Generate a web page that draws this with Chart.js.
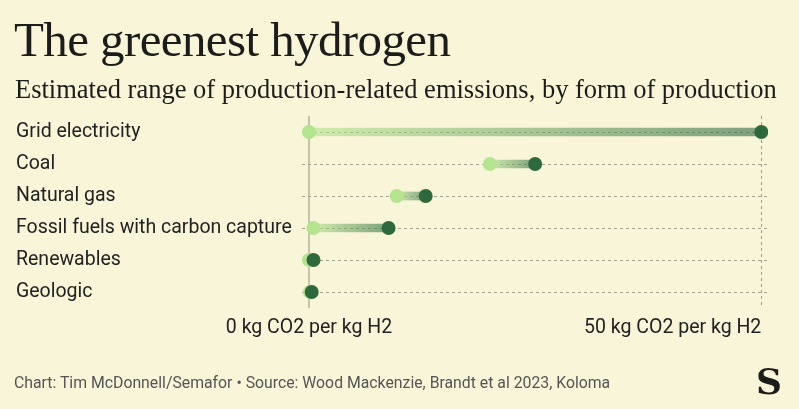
<!DOCTYPE html>
<html>
<head>
<meta charset="utf-8">
<script src="https://cdn.jsdelivr.net/npm/chart.js@4.4.0/dist/chart.umd.min.js"></script>
<style>
  html, body { margin: 0; padding: 0; background: #f8f5d8; }
  #wrap { position: relative; width: 799px; height: 409px; overflow: hidden; }
  #chart { position: absolute; left: 0; top: 0; }
  .title { position: absolute; left: 14px; top: 11px; font-family: 'Liberation Serif', serif; font-size: 49px; color: #1c1c1a; letter-spacing: -0.6px; white-space: nowrap; }
  .sub { position: absolute; left: 15px; top: 74px; font-family: 'Liberation Serif', serif; font-size: 26.5px; color: #1c1c1a; white-space: nowrap; }
  .foot { position: absolute; left: 14px; top: 373px; font-family: Roboto, sans-serif; font-size: 15.8px; color: #555; white-space: nowrap; }
  .logo { position: absolute; left: 756px; top: 360px; font-family: 'DejaVu Serif', serif; font-weight: bold; font-size: 36px; color: #1c1c1a; }
</style>
</head>
<body>
<div id="wrap">
  <canvas id="chart" width="799" height="409"></canvas>
  <div class="title">The greenest hydrogen</div>
  <div class="sub">Estimated range of production-related emissions, by form of production</div>
  <div class="foot">Chart: Tim McDonnell/Semafor • Source: Wood Mackenzie, Brandt et al 2023, Koloma</div>
  <div class="logo">S</div>
</div>
<script>
const categories = ['Grid electricity', 'Coal', 'Natural gas', 'Fossil fuels with carbon capture', 'Renewables', 'Geologic'];
const lowValues = [0, 20, 9.7, 0.5, 0, 0.1];
const highValues = [50, 25, 12.9, 8.8, 0.5, 0.3];
const tickValues = [0, 50];
const tickLabels = ['0 kg CO2 per kg H2', '50 kg CO2 per kg H2'];

const lightGreen = '#b5e48f';
const darkGreen = '#2e693e';
const labelFont = { family: 'Roboto, sans-serif', size: 19.5 };

// tick labels for the x axis: first centred, last right-aligned
const xLabels = {
    id: 'xLabels',
    afterDraw(chart) {
        const ctx = chart.ctx;
        const x = chart.scales.x;
        ctx.save();
        ctx.font = labelFont.size + 'px ' + labelFont.family;
        ctx.fillStyle = '#222';
        ctx.textBaseline = 'middle';
        tickValues.forEach(function(v, i) {
            ctx.textAlign = i === 0 ? 'center' : 'right';
            ctx.fillText(tickLabels[i], x.getPixelForValue(v), x.top + 20);
        });
        ctx.restore();
    }
};

new Chart(document.getElementById('chart').getContext('2d'), {
    type: 'bar',
    data: {
        labels: categories,
        datasets: [{
            type: 'bar',
            indexAxis: 'y',
            data: lowValues.map((v, i) => [v, highValues[i]]),
            barThickness: 8,
            order: 3,
            backgroundColor: function(c) {
                const chart = c.chart;
                if (!chart.chartArea || c.dataIndex === undefined) return 'rgba(0,0,0,0)';
                const sx = chart.scales.x;
                const x0 = sx.getPixelForValue(lowValues[c.dataIndex]);
                const x1 = sx.getPixelForValue(highValues[c.dataIndex]);
                const g = chart.ctx.createLinearGradient(x0, 0, x1 + 0.01, 0);
                g.addColorStop(0, 'rgba(181,228,143,0.6)');
                g.addColorStop(1, 'rgba(46,105,62,0.6)');
                return g;
            }
        }, {
            type: 'line',
            indexAxis: 'y',
            showLine: false,
            order: 2,
            data: lowValues.map((v, i) => ({ x: v, y: categories[i] })),
            pointRadius: 7,
            pointHoverRadius: 7,
            pointBackgroundColor: lightGreen,
            pointBorderWidth: 0
        }, {
            type: 'line',
            indexAxis: 'y',
            showLine: false,
            order: 1,
            data: highValues.map((v, i) => ({ x: v, y: categories[i] })),
            pointRadius: 7,
            pointHoverRadius: 7,
            pointBackgroundColor: darkGreen,
            pointBorderWidth: 0
        }]
    },
    options: {
        indexAxis: 'y',
        responsive: false,
        animation: false,
        layout: { padding: { left: 16, right: 31, top: 116, bottom: 58 } },
        plugins: { legend: { display: false }, tooltip: { enabled: false } },
        scales: {
            x: {
                type: 'linear',
                min: -0.77,
                max: 50.74,
                afterBuildTicks: s => { s.ticks = tickValues.map(v => ({ value: v })); },
                afterFit: s => { s.height = 43; },
                ticks: { display: false },
                border: { display: false, dash: [3, 3] },
                grid: {
                    drawTicks: false,
                    color: c => c.tick && c.tick.value === 50 ? '#9c9b8c' : 'rgba(0,0,0,0)'
                }
            },
            x2: {
                type: 'linear',
                position: 'bottom',
                min: -0.77,
                max: 50.74,
                afterBuildTicks: s => { s.ticks = [{ value: 0 }]; },
                afterFit: s => { s.height = 0; },
                ticks: { display: false },
                border: { display: false },
                grid: { drawTicks: false, color: '#c6c4a6', lineWidth: 2 }
            },
            y: {
                type: 'category',
                offset: true,
                afterFit: s => { s.width = 286; },
                ticks: { crossAlign: 'far', padding: 0, color: '#222', font: labelFont },
                border: { display: false, dash: [3, 3] },
                grid: { offset: false, drawTicks: false, color: '#a3a192' }
            }
        }
    },
    plugins: [xLabels]
});
</script>
</body>
</html>
